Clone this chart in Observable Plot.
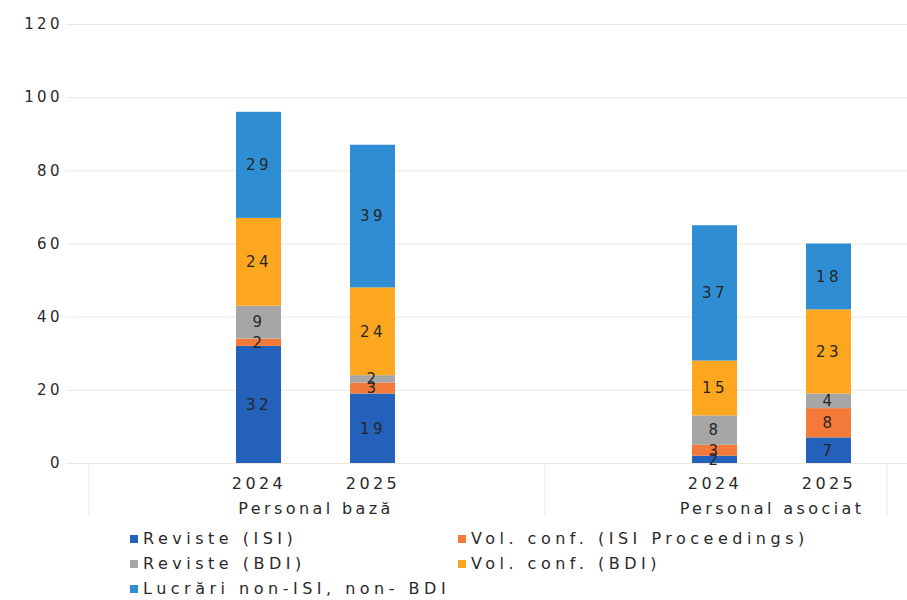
<!DOCTYPE html>
<html>
<head>
<meta charset="utf-8">
<script src="https://cdn.jsdelivr.net/npm/d3@7"></script>
<script src="https://cdn.jsdelivr.net/npm/@observablehq/plot@0.6"></script>
<style>
  body { margin: 0; background: #fff; }
  #wrap { position: relative; width: 907px; height: 600px; font-family: "DejaVu Sans", sans-serif; }
  #legend { position: absolute; top: 526px; left: 0; width: 907px; }
  .li { position: absolute; height: 25px; line-height: 25px; font-size: 16px; letter-spacing: 4.5px; color: #2a2a2a; white-space: nowrap; }
  .sw { display: inline-block; width: 8px; height: 8px; margin-right: 5px; vertical-align: 1px; }
</style>
</head>
<body>
<div id="wrap"><div id="chart"></div><div id="legend"></div></div>
<script>
const categories = ["Personal bază", "Personal asociat"];
const years = ["2024", "2025"];
const series = ["Reviste (ISI)", "Vol. conf. (ISI Proceedings)", "Reviste (BDI)", "Vol. conf. (BDI)", "Lucrări non-ISI, non- BDI"];
const colors = ["#2361bb", "#f47a3a", "#a6a6a6", "#fca71f", "#2f8ed3"];
// values per bar: [bază 2024, bază 2025, asociat 2024, asociat 2025]
const revisteISI   = [32, 19, 2, 7];
const volConfISI   = [2, 3, 3, 8];
const revisteBDI   = [9, 2, 8, 4];
const volConfBDI   = [24, 24, 15, 23];
const nonISInonBDI = [29, 39, 37, 18];
const yTicks = [0, 20, 40, 60, 80, 100, 120];

const seriesValues = [revisteISI, volConfISI, revisteBDI, volConfBDI, nonISInonBDI];
const bars = [];
categories.forEach(c => years.forEach(y => bars.push({cat: c, year: y, key: c + " " + y})));
const xDomain = [bars[0].key, bars[1].key, "gap1", "gap2", bars[2].key, bars[3].key];
const firstKey = () => xDomain[0];
const lastKey = () => xDomain[5];

const data = [];
series.forEach((s, si) => bars.forEach((b, bi) => data.push({key: b.key, series: s, value: seriesValues[si][bi]})));

const font = "DejaVu Sans";
const chart = Plot.plot({
  width: 907,
  height: 525,
  marginTop: 24,
  marginBottom: 62,
  marginLeft: 88,
  marginRight: 17,
  style: {fontFamily: font, background: "#fff"},
  x: {type: "band", domain: xDomain, range: [88, 1000], paddingInner: 0.603, paddingOuter: 1.28, axis: null},
  y: {domain: [0, 120], axis: null},
  color: {domain: series, range: colors},
  marks: [
    Plot.ruleY(yTicks.slice(1), {y: d => d, x1: firstKey, x2: lastKey, stroke: "#ece8dc", strokeWidth: 1,
      insetLeft: -170, insetRight: -58}),
    Plot.ruleY([0], {y: d => d, x1: firstKey, x2: lastKey, stroke: "#ece8dc", strokeWidth: 1,
      insetLeft: -170, insetRight: -58}),
    Plot.barY(data, Plot.stackY({x: "key", y: "value", fill: "series", z: "series", order: series})),
    Plot.text(data, Plot.stackY({x: "key", y: "value", z: "series", order: series, text: "value",
      fill: "#262626", fontSize: 15})),
    // y tick labels
    Plot.text(yTicks, {x: firstKey, y: d => d, text: d => String(d), dx: -170 - 26, textAnchor: "end",
      fontSize: 15, fill: "#2a2a2a"}),
    // year labels
    Plot.text(bars, {x: "key", y: 0, text: "year", dy: 20, fontSize: 16, fill: "#2a2a2a"}),
    // category labels
    Plot.text([bars[0], bars[2]], {x: "key", y: 0, text: "cat", dx: 57, dy: 45, fontSize: 16, fill: "#2a2a2a"}),
    // separators
    Plot.ruleX([bars[0].key], {x: d => d, y1: 0, y2: 0, dx: -170, insetBottom: -52, stroke: "#ece8dc"}),
    Plot.ruleX(["gap1"], {x: d => d, y1: 0, y2: 0, dx: 58, insetBottom: -52, stroke: "#ece8dc"}),
    Plot.ruleX([bars[3].key], {x: d => d, y1: 0, y2: 0, dx: 58, insetBottom: -52, stroke: "#ece8dc"})
  ]
});
// letter spacing for text labels
d3.select(chart).selectAll("text").style("letter-spacing", "3.4px");
document.getElementById("chart").appendChild(chart);

const legend = document.getElementById("legend");
const legendPos = [[130, 0], [458, 0], [130, 25], [458, 25], [130, 50]];
series.forEach((s, i) => {
  const d = document.createElement("div");
  d.className = "li";
  d.style.left = legendPos[i][0] + "px";
  d.style.top = legendPos[i][1] + "px";
  d.innerHTML = `<span class="sw" style="background:${colors[i]}"></span>${s}`;
  legend.appendChild(d);
});
</script>
</body>
</html>
